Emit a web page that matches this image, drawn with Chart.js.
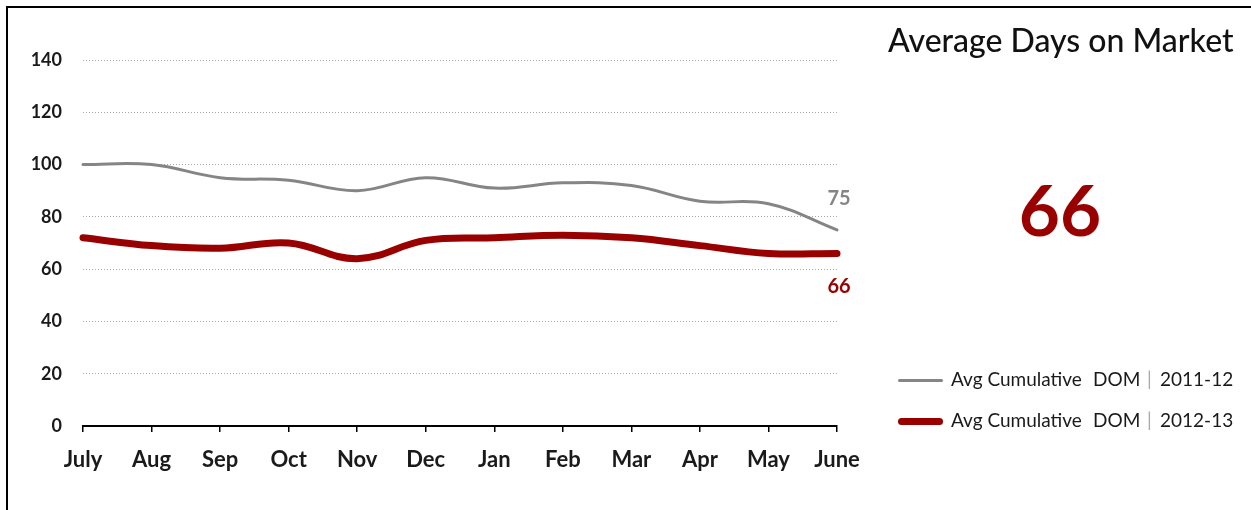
<!DOCTYPE html>
<html>
<head>
<meta charset="utf-8">
<script src="https://cdn.jsdelivr.net/npm/chart.js@4/dist/chart.umd.min.js"></script>
<style>
  html, body { margin: 0; padding: 0; background: #fff; }
  #wrap { position: relative; width: 1251px; height: 510px; overflow: hidden; font-family: Lato, sans-serif; }
  #frame { position: absolute; left: 6px; top: 6px; right: 0; bottom: 0; border-top: 2px solid #000; border-left: 2px solid #000; pointer-events: none; }
  #domChart { position: absolute; left: 0; top: 0; }
  #title { position: absolute; left: 888px; top: 21px; font-size: 32px; font-weight: 500; line-height: 1.2; color: #111; white-space: nowrap; }
  #bigNumber { position: absolute; left: 1010px; width: 100px; text-align: center; top: 166px; font-size: 71px; font-weight: 700; line-height: 1.2; color: #990000; }
  .legend-row { position: absolute; left: 898px; height: 22px; font-size: 19px; line-height: 1.2; color: #1a1a1a; white-space: nowrap; }
  .legend-row .swatch { position: absolute; left: 0; width: 45px; border-radius: 4px; }
  .legend-row span { position: absolute; top: 0; }
  .legend-row .bar { color: #aaa; }
</style>
</head>
<body>
<div id="wrap">
  <canvas id="domChart" width="1251" height="510"></canvas>
  <div id="title">Average Days on Market</div>
  <div id="bigNumber"></div>
  <div id="legend"></div>
  <div id="frame"></div>
</div>
<script>
const months = ['July', 'Aug', 'Sep', 'Oct', 'Nov', 'Dec', 'Jan', 'Feb', 'Mar', 'Apr', 'May', 'June'];
const dom2011 = [100, 100, 95, 94, 90, 95, 91, 93, 92, 86, 85, 75];
const dom2012 = [72, 69, 68, 70, 64, 71, 72, 73, 72, 69, 66, 66];
const seasons = ['2011-12', '2012-13'];
const yMin = 0;
const yMax = 140;
const yStep = 20;

const grayLine = '#858585';
const redLine = '#990000';

// label the last point of each series, gray above / red below
const endLabels = {
    id: 'endLabels',
    afterDatasetsDraw(chart) {
        const ctx = chart.ctx;
        ctx.save();
        ctx.font = 'bold 20px Lato';
        ctx.textAlign = 'center';
        ctx.textBaseline = 'middle';
        chart.data.datasets.forEach((ds, i) => {
            const meta = chart.getDatasetMeta(i);
            const last = meta.data[meta.data.length - 1];
            const value = ds.data[ds.data.length - 1];
            ctx.fillStyle = ds.borderColor;
            const dy = i === 0 ? -31 : 33;
            ctx.fillText(String(value), last.x + 2, last.y + dy);
        });
        ctx.restore();
    }
};

Chart.defaults.font.family = 'Lato';
Chart.defaults.color = '#1a1a1a';

const ctx = document.getElementById('domChart').getContext('2d');
const chart = new Chart(ctx, {
    type: 'line',
    data: {
        labels: months,
        datasets: [{
            label: 'Avg Cumulative DOM | ' + seasons[0],
            data: dom2011,
            borderColor: grayLine,
            borderWidth: 3,
            tension: 0.4,
            pointRadius: 0,
            borderCapStyle: 'round',
            clip: false
        }, {
            label: 'Avg Cumulative DOM | ' + seasons[1],
            data: dom2012,
            borderColor: redLine,
            borderWidth: 7,
            tension: 0.4,
            pointRadius: 0,
            borderCapStyle: 'round',
            clip: false
        }]
    },
    options: {
        responsive: false,
        animation: false,
        layout: {
            padding: { left: 0, right: 414, top: 60, bottom: 0 }
        },
        plugins: {
            legend: { display: false },
            tooltip: { enabled: false }
        },
        scales: {
            x: {
                offset: false,
                afterFit: (scale) => { scale.height = 84; },
                grid: {
                    drawOnChartArea: false,
                    drawTicks: true,
                    tickLength: 6,
                    color: '#000',
                    lineWidth: 1.5
                },
                border: { display: true, color: '#000', width: 2 },
                ticks: {
                    font: { size: 22, weight: 'bold' },
                    padding: 15,
                    maxRotation: 0,
                    autoSkip: false
                }
            },
            y: {
                min: yMin,
                max: yMax,
                afterFit: (scale) => { scale.width = 83; },
                grid: {
                    drawTicks: false,
                    color: (c) => c.tick.value === 0 ? 'rgba(0,0,0,0)' : '#a8a8a8',
                    lineWidth: 1
                },
                border: { display: false, dash: [1, 2] },
                ticks: {
                    stepSize: yStep,
                    padding: 21,
                    font: { size: 18, weight: 'bold' }
                }
            }
        }
    },
    plugins: [endLabels]
});

// big number = latest value of the current season
document.getElementById('bigNumber').textContent = dom2012[dom2012.length - 1];

// html legend
const legendEl = document.getElementById('legend');
const rowTops = [368, 409];
chart.data.datasets.forEach((ds, i) => {
    const row = document.createElement('div');
    row.className = 'legend-row';
    row.style.top = rowTops[i] + 'px';
    const sw = document.createElement('div');
    sw.className = 'swatch';
    sw.style.background = ds.borderColor;
    sw.style.height = ds.borderWidth + 'px';
    sw.style.top = (12 - ds.borderWidth / 2) + 'px';
    row.appendChild(sw);
    const parts = [
        ['Avg Cumulative', 53, ''],
        ['DOM', 195, ''],
        ['|', 249, 'bar'],
        [seasons[i], 262, '']
    ];
    parts.forEach(([txt, x, cls]) => {
        const s = document.createElement('span');
        s.textContent = txt;
        s.style.left = x + 'px';
        if (cls) s.className = cls;
        row.appendChild(s);
    });
    legendEl.appendChild(row);
});
</script>
</body>
</html>
